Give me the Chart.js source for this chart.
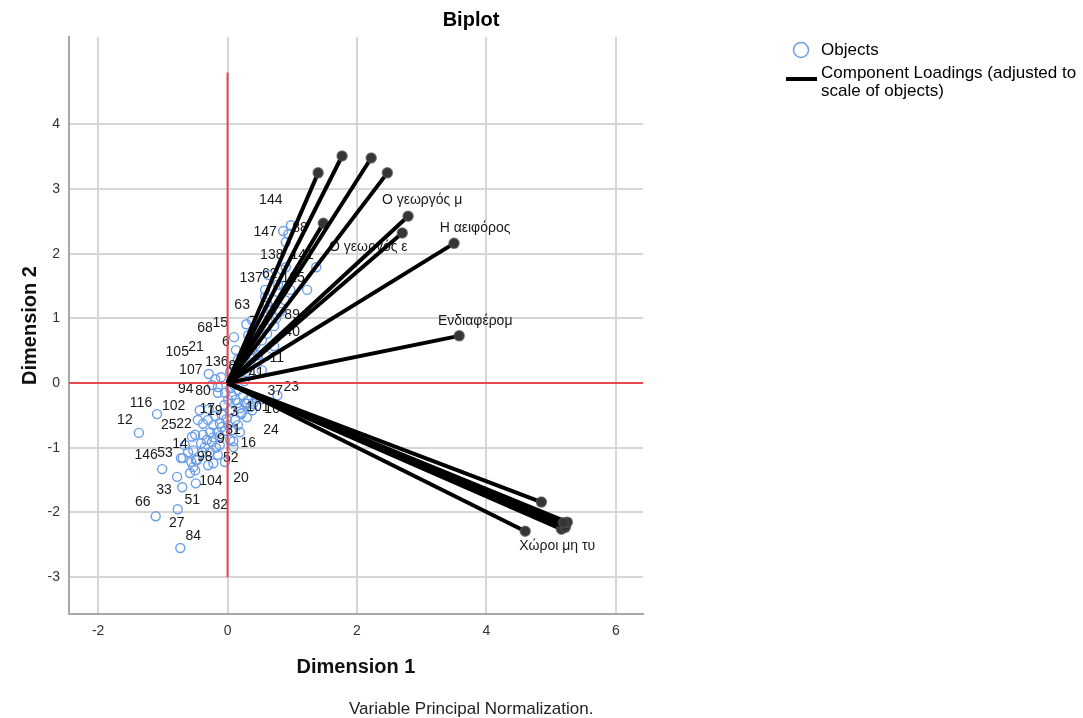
<!DOCTYPE html>
<html>
<head>
<meta charset="utf-8">
<title>Biplot</title>
<script src="https://cdn.jsdelivr.net/npm/chart.js@4.4.0/dist/chart.umd.min.js"></script>
<style>
  html, body { margin: 0; padding: 0; background: #fff; }
  canvas { display: block; width: 1083px; height: 718px; }
</style>
</head>
<body>
<canvas id="biplot" width="1083" height="718"></canvas>
<script>
const FONT = "'Liberation Sans', Arial, sans-serif";
const BLUE = "#6a9ee8";
const RED = "#e8484c";

const xTicks = [-2, 0, 2, 4, 6];
const yTicks = [-3, -2, -1, 0, 1, 2, 3, 4];
const xRange = [-2.45, 6.42];
const yRange = [-3.57, 5.35];
const zeroLineY = [-3, 4.8];

// object scores (labelled objects first, "" = no label shown)
const objectIds = [
  "144", "147", "88", "138", "141", "137", "62", "125", "63", "7", "89", "40", "11", "41",
  "15", "68", "6", "136", "8", "21", "105", "107", "94", "80", "37", "23", "116", "102",
  "12", "25", "22", "17", "19", "3", "101", "10", "24", "31", "9", "16", "14", "146",
  "53", "98", "52", "104", "20", "33", "51", "66", "82", "27", "84",
  "", "", "", "", "", "", "", "", "", "", "", "", "", "", "", "", "", "", "", "", "",
  "", "", "", "", "", "", "", "", "", "", "", "", "", "", "", "", "", "", "", "", "",
  "", "", "", "", "", "", "", "", "", "", "", "", "", "", "", "", "", "", "", "", "",
  "", "", "", "", "", "", "", "", "", "", "", "", "", "", "", "", "", "", "", "", "",
];
const dim1 = [
  0.90, 0.86, 0.98, 0.90, 1.37, 0.58, 0.87, 1.23, 0.38, 0.61, 0.72, 0.72, 0.53, 0.26,
  0.29, 0.10, 0.13, 0.16, 0.29, -0.10, -0.19, -0.29, -0.15, -0.04, 0.52, 0.77, -1.09, -0.43,
  -1.37, -0.46, -0.38, -0.19, -0.12, 0.21, 0.30, 0.38, 0.30, -0.04, -0.12, 0.09, -0.55, -1.01,
  -0.72, -0.49, -0.15, -0.49, -0.04, -0.78, -0.70, -1.11, -0.22, -0.77, -0.73,
  0.94, 0.63, 0.58, 0.61, 0.66, 0.73, 0.78, 0.84, 0.53, 0.43, 0.47, 0.35, 0.60, 0.66, 0.47, 0.81, 0.89, 0.97, 0.75, 0.56, 0.32,
  0.38, 0.26, 0.19, 0.10, 0.04, 0.13, 0.07, 0.12, 0.16, 0.19, 0.27, 0.32, 0.35, 0.22, 0.44, 0.39, 0.16, 0.24, 0.04, 0.10, -0.29,
  -0.30, -0.22, -0.09, -0.27, -0.16, -0.50, -0.38, -0.32, -0.24, 0.04, 0.09, 0.07, -0.61, -0.53, -0.69, -0.47, -0.39, -0.27, -0.18, -0.53, -0.50,
  -0.58, -0.30, 0.01, -0.05, 0.04, 0.12, 0.16, 0.01, -0.09, -0.41, -0.56, -0.24, -0.15, -0.02, -0.22, -0.12, -0.66, -0.35, 0.19,
];
const dim2 = [
  2.18, 2.35, 2.44, 1.79, 1.79, 1.44, 1.50, 1.44, 0.97, 0.76, 0.88, 0.57, 0.20, 0.03,
  0.91, 0.71, 0.51, 0.36, 0.17, 0.09, 0.06, 0.14, -0.15, -0.15, -0.25, -0.19, -0.48, -0.42,
  -0.77, -0.57, -0.63, -0.51, -0.62, -0.48, -0.32, -0.42, -0.53, -0.74, -0.96, -0.90, -0.83, -1.33,
  -1.16, -1.19, -1.11, -1.55, -1.22, -1.45, -1.61, -2.06, -1.24, -1.95, -2.55,
  2.30, 1.67, 1.33, 1.24, 1.13, 1.28, 1.52, 1.75, 0.66, 0.59, 0.43, 0.32, 0.42, 0.97, 0.82, 1.10, 1.28, 1.44, 1.00, 1.10, 0.74,
  0.51, 0.39, 0.23, 0.26, 0.17, 0.14, -0.19, -0.26, -0.31, -0.39, -0.31, -0.26, -0.37, -0.46, -0.23, -0.32, -0.11, -0.19, -0.08, -0.03, -0.40,
  -0.57, -0.65, -0.68, -0.76, -0.76, -0.80, -0.80, -0.88, -0.91, -0.88, -0.99, -0.73, -1.07, -1.04, -1.16, -1.19, -1.07, -1.07, -1.00, -1.30, -1.35,
  -1.39, -1.27, -0.26, -0.34, -0.42, -0.57, -0.65, -0.65, -0.49, -0.93, -1.22, -0.03, -0.06, -0.56, -0.84, -0.82, -0.96, -0.99, -0.76,
];

// component loadings (adjusted to scale of objects)
const loadingNames = [
  "", "", "", "", "", "Ο γεωργός μ", "Ο γεωργός ε", "Η αειφόρος", "Ενδιαφέρομ",
  "", "Χώροι μη τυ", "", "", "", "",
];
const loadingDim1 = [1.40, 1.77, 2.22, 2.47, 1.48, 2.79, 2.70, 3.50, 3.58, 4.85, 4.60, 5.19, 5.25, 5.22, 5.16];
const loadingDim2 = [3.25, 3.51, 3.48, 3.25, 2.47, 2.58, 2.32, 2.16, 0.73, -1.84, -2.29, -2.16, -2.15, -2.23, -2.26];

// label placement nudges in px (layout only)
const objectLabelNudge = {
  "144": [-15, -42], "147": [-18, 1], "88": [9, 3], "63": [-10, -15], "89": [18, -11],
  "40": [18, -14], "11": [15, -12], "41": [12, -8], "15": [-26, -1], "68": [-29, -9],
  "6": [-10, -8], "136": [-21, 2], "8": [-14, -6], "21": [-25, -30], "105": [-38, -27],
  "107": [-18, -4], "94": [-32, -4], "80": [-22, -2], "37": [14, -8], "23": [14, -8],
  "116": [-16, -11], "102": [-26, -4], "12": [-14, -13], "25": [-29, 5], "22": [-19, 0],
  "17": [-8, -7], "19": [-5, -12], "3": [-7, -2], "101": [11, 3], "10": [20, -1],
  "24": [24, 13], "31": [8, -1], "9": [1, -6], "16": [15, 2], "14": [-12, 7],
  "146": [-16, -14], "53": [-16, -5], "98": [9, -3], "52": [13, 3], "104": [15, -2],
  "20": [16, 16], "33": [-13, 13], "51": [10, 13], "66": [-13, -14], "82": [7, 42],
  "27": [-1, 14], "84": [13, -12],
};
const defaultNudge = [-14, -12];
const loadingLabelNudge = {
  "Ο γεωργός μ": [14, -16], "Ο γεωργός ε": [-34, 14], "Η αειφόρος": [21, -15],
  "Ενδιαφέρομ": [16, -15], "Χώροι μη τυ": [32, 15],
};

const biplotText = {
  id: "biplotText",
  afterDatasetDraw(chart, args) {

    if (args.index !== 0) return;

    const ctx = chart.ctx;
    const xs = chart.scales.x;
    const ys = chart.scales.y;
    ctx.save();
    ctx.font = `14px ${FONT}`;
    ctx.fillStyle = "#1a1a1a";
    ctx.textAlign = "center";
    ctx.textBaseline = "middle";

    objectIds.forEach((id, i) => {
      if (!id) return;
      const nudge = objectLabelNudge[id] || defaultNudge;
      ctx.fillText(id, xs.getPixelForValue(dim1[i]) + nudge[0], ys.getPixelForValue(dim2[i]) + nudge[1]);
    });

    loadingNames.forEach((name, i) => {
      if (!name) return;
      const nudge = loadingLabelNudge[name];
      ctx.fillText(name, xs.getPixelForValue(loadingDim1[i]) + nudge[0], ys.getPixelForValue(loadingDim2[i]) + nudge[1]);
    });

    ctx.restore();
  },
  afterDraw(chart) {

    const ctx = chart.ctx;
    ctx.save();
    ctx.fillStyle = "#000";
    ctx.textBaseline = "middle";

    ctx.font = `bold 20px ${FONT}`;
    ctx.textAlign = "center";
    ctx.fillText("Biplot", 471, 20);

    // legend
    ctx.textAlign = "left";
    ctx.font = `17px ${FONT}`;
    ctx.beginPath();
    ctx.arc(801, 50, 7.5, 0, Math.PI * 2);
    ctx.strokeStyle = BLUE;
    ctx.lineWidth = 1.5;
    ctx.stroke();
    ctx.fillText("Objects", 821, 50);
    ctx.beginPath();
    ctx.moveTo(786, 79);
    ctx.lineTo(817, 79);
    ctx.strokeStyle = "#000";
    ctx.lineWidth = 4;
    ctx.stroke();
    ctx.fillText("Component Loadings (adjusted to", 821, 73);
    ctx.fillText("scale of objects)", 821, 91);

    ctx.fillStyle = "#222";
    ctx.fillText("Variable Principal Normalization.", 349, 709);
    ctx.restore();
  },
};

const datasets = [
  {
    label: "Objects",
    data: dim1.map((x, i) => ({ x, y: dim2[i] })),
    pointRadius: 4.5,
    pointBorderWidth: 1.4,
    pointBorderColor: BLUE,
    pointBackgroundColor: "rgba(0, 0, 0, 0)",
    order: 5,
  },
  {
    label: "zero x",
    data: [ { x: 0, y: zeroLineY[0] }, { x: 0, y: zeroLineY[1] } ],
    showLine: true,
    borderColor: RED,
    borderWidth: 2,
    pointRadius: 0,
    order: 3,
  },
  {
    label: "zero y",
    data: [ { x: xRange[0], y: 0 }, { x: xRange[1], y: 0 } ],
    showLine: true,
    borderColor: RED,
    borderWidth: 2,
    pointRadius: 0,
    order: 3,
  },
  ...loadingDim1.map((x, i) => ({
    label: loadingNames[i] || `loading ${i + 1}`,
    data: [ { x: 0, y: 0 }, { x, y: loadingDim2[i] } ],
    showLine: true,
    borderColor: "#000",
    borderWidth: 4,
    pointRadius: [0, 5],
    pointBorderWidth: 1.5,
    pointBackgroundColor: "#353535",
    pointBorderColor: "rgba(80, 80, 80, 0.7)",
    order: 1,
  })),
];

new Chart(document.getElementById("biplot"), {
  type: "scatter",
  data: { datasets },
  options: {
    responsive: false,
    devicePixelRatio: 1,
    animation: false,
    events: [],
    layout: { padding: { left: 0, right: 440, top: 37, bottom: 0 } },
    plugins: {
      legend: { display: false },
      tooltip: { enabled: false },
    },
    scales: {
      x: {
        type: "linear",
        min: xRange[0],
        max: xRange[1],
        afterBuildTicks: scale => { scale.ticks = xTicks.map(value => ({ value })); },
        afterFit: scale => { scale.height = 104; },
        grid: { color: "#d6d6d6", lineWidth: 2, drawTicks: false },
        border: { color: "#a8a8a8", width: 2 },
        ticks: {
          padding: 9,
          color: "#333",
          font: { family: FONT, size: 14 },
          callback: value => String(value),
        },
        title: {
          display: true,
          text: "Dimension 1",
          color: "#111",
          font: { family: FONT, size: 20, weight: "bold" },
          padding: { top: 0, bottom: 39 },
        },
      },
      y: {
        type: "linear",
        min: yRange[0],
        max: yRange[1],
        afterBuildTicks: scale => { scale.ticks = yTicks.map(value => ({ value })); },
        afterFit: scale => { scale.width = 69; },
        grid: { color: "#d6d6d6", lineWidth: 2, drawTicks: false },
        border: { color: "#a8a8a8", width: 2 },
        ticks: {
          padding: 9,
          color: "#333",
          font: { family: FONT, size: 14 },
          callback: value => String(value),
        },
        title: {
          display: true,
          text: "Dimension 2",
          color: "#111",
          font: { family: FONT, size: 20, weight: "bold" },
          padding: { top: 18, bottom: 0 },
        },
      },
    },
  },
  plugins: [ biplotText ],
});
</script>
</body>
</html>
